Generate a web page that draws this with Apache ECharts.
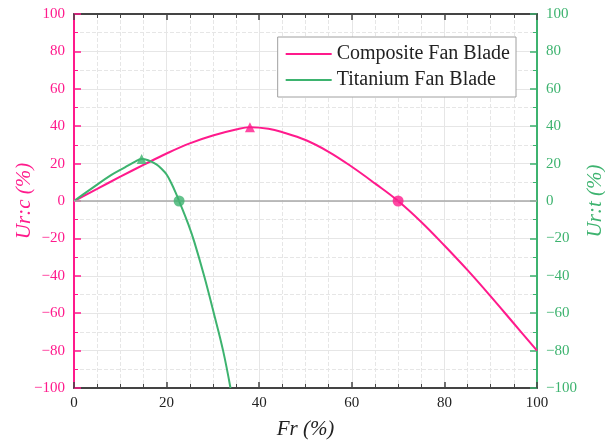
<!DOCTYPE html>
<html>
<head>
<meta charset="utf-8">
<script src="https://cdn.jsdelivr.net/npm/echarts@6/dist/echarts.min.js"></script>
<style>
  html, body { margin: 0; padding: 0; background: #fff; }
  #chart { width: 605px; height: 443px; }
</style>
</head>
<body>
<div id="chart"></div>
<script>
  // 数据 (Fr %, Ur %)
  var compositeData = [
    [0, 0], [5, 6.5], [10, 13], [15, 19.3], [20, 25.4], [25, 30.8], [30, 35], [35, 38.2],
    [38, 39.4], [42, 38.6], [45, 36.8], [50, 32.6], [55, 26.3], [60, 18.3], [65, 9.4], [70, 0],
    [75, -11.2], [80, -23.8], [85, -37], [90, -51], [95, -65.5], [100, -80]
  ];
  var titaniumData = [
    [0, 0], [4, 7], [8, 13.8], [11, 18], [13, 20.8], [14.6, 22.5], [16, 21.8], [17.8, 19.6],
    [19, 17], [20, 14.2], [21, 9.6], [22, 4.2], [22.7, 0], [24.7, -12.5], [26, -22],
    [28.1, -40], [30.2, -60], [32.2, -80], [33.8, -100]
  ];
  // 峰值(三角) 与 零点(圆)
  var compositePeak = [[38, 39.4]];
  var compositeZero = [[70, 0]];
  var titaniumPeak = [[14.6, 22.5]];
  var titaniumZero = [[22.7, 0]];

  var xTicks = [0, 20, 40, 60, 80, 100];
  var yTicks = [-100, -80, -60, -40, -20, 0, 20, 40, 60, 80, 100];

  var pink = '#FF1A8C';
  var green = '#3DB36F';
  var serif = '"Liberation Serif", "Times New Roman", serif';

  // 负号用 U+2212
  function minusFmt (v) {
    return String(v).replace('-', '\u2212');
  }

  function yAxisOf (pos, color, name) {
    return {
      type: 'value',
      position: pos,
      min: yTicks[0],
      max: yTicks[yTicks.length - 1],
      interval: 20,
      name: name,
      nameLocation: 'middle',
      nameRotate: 90,
      nameMoveOverlap: false,
      nameGap: pos === 'left' ? 39 : 48,
      nameTextStyle: { color: color, fontFamily: serif, fontStyle: 'italic', fontSize: 21 },
      axisLine: { show: true, onZero: false, lineStyle: { color: color, width: 2 } },
      axisTick: { show: true, inside: true, length: 7, lineStyle: { color: color, width: 1.5 } },
      minorTick: { show: true, splitNumber: 2, length: 4, lineStyle: { color: color, width: 1 } },
      axisLabel: { color: color, fontFamily: serif, fontSize: 15, margin: 9, formatter: minusFmt },
      splitLine: { show: pos === 'left', lineStyle: { color: '#e6e6e6', width: 1 } },
      minorSplitLine: { show: pos === 'left', lineStyle: { color: '#e6e6e6', type: 'dashed', width: 1 } }
    };
  }

  var option = {
    backgroundColor: '#fff',
    animation: false,
    grid: { left: 74, right: 68, top: 14, bottom: 55, outerBoundsMode: 'none' },
    legend: {
      orient: 'vertical',
      right: 89,
      top: 37,
      padding: [7, 6, 7, 8],
      itemGap: 6,
      itemWidth: 46,
      itemHeight: 2,
      icon: 'rect',
      backgroundColor: '#fff',
      borderColor: '#a0a0a0',
      borderWidth: 1,
      textStyle: { fontFamily: serif, fontSize: 20, color: '#222' },
      data: ['Composite Fan Blade', 'Titanium Fan Blade']
    },
    xAxis: [
      {
        type: 'value',
        position: 'bottom',
        min: xTicks[0],
        max: xTicks[xTicks.length - 1],
        interval: 20,
        name: 'Fr (%)',
        nameLocation: 'middle',
        nameGap: 31,
        nameTextStyle: { color: '#222', fontFamily: serif, fontStyle: 'italic', fontSize: 21 },
        axisLine: { onZero: false, lineStyle: { color: '#444', width: 2 } },
        axisTick: { inside: true, length: 6, lineStyle: { color: '#444', width: 1.5 } },
        minorTick: { show: true, splitNumber: 4, length: 4, lineStyle: { color: '#444', width: 1 } },
        axisLabel: { color: '#222', fontFamily: serif, fontSize: 15, margin: 8 },
        splitLine: { show: true, lineStyle: { color: '#e6e6e6', width: 1 } },
        minorSplitLine: { show: true, lineStyle: { color: '#e6e6e6', type: 'dashed', width: 1 } }
      },
      {
        type: 'value',
        position: 'top',
        min: 0,
        max: 100,
        interval: 20,
        axisLine: { onZero: false, lineStyle: { color: '#444', width: 2 } },
        axisTick: { inside: true, length: 6, lineStyle: { color: '#444', width: 1.5 } },
        minorTick: { show: true, splitNumber: 4, length: 4, lineStyle: { color: '#444', width: 1 } },
        axisLabel: { show: false },
        splitLine: { show: false }
      }
    ],
    yAxis: [
      yAxisOf('left', pink, 'Ur:c (%)'),
      yAxisOf('right', green, 'Ur:t (%)')
    ],
    series: [
      {
        name: 'Composite Fan Blade',
        type: 'line',
        smooth: 0.4,
        showSymbol: false,
        yAxisIndex: 0,
        data: compositeData,
        lineStyle: { color: pink, width: 2 },
        itemStyle: { color: pink },
        z: 3,
        markLine: {
          silent: true,
          symbol: 'none',
          label: { show: false },
          lineStyle: { color: '#a8a8a8', type: 'solid', width: 1.5 },
          data: [{ yAxis: 0 }]
        }
      },
      {
        name: 'Titanium Fan Blade',
        type: 'line',
        smooth: 0.4,
        showSymbol: false,
        yAxisIndex: 1,
        data: titaniumData,
        lineStyle: { color: green, width: 2 },
        itemStyle: { color: green },
        z: 4
      },
      { type: 'scatter', yAxisIndex: 0, symbol: 'triangle', symbolSize: 10, data: compositePeak, itemStyle: { color: pink }, z: 5 },
      { type: 'scatter', yAxisIndex: 0, symbol: 'circle', symbolSize: 11, data: compositeZero, itemStyle: { color: pink }, z: 5 },
      { type: 'scatter', yAxisIndex: 1, symbol: 'triangle', symbolSize: 10, data: titaniumPeak, itemStyle: { color: green }, z: 5 },
      { type: 'scatter', yAxisIndex: 1, symbol: 'circle', symbolSize: 11, data: titaniumZero, itemStyle: { color: green }, z: 5 }
    ]
  };

  var myChart = echarts.init(document.getElementById('chart'));
  myChart.setOption(option);
</script>
</body>
</html>
